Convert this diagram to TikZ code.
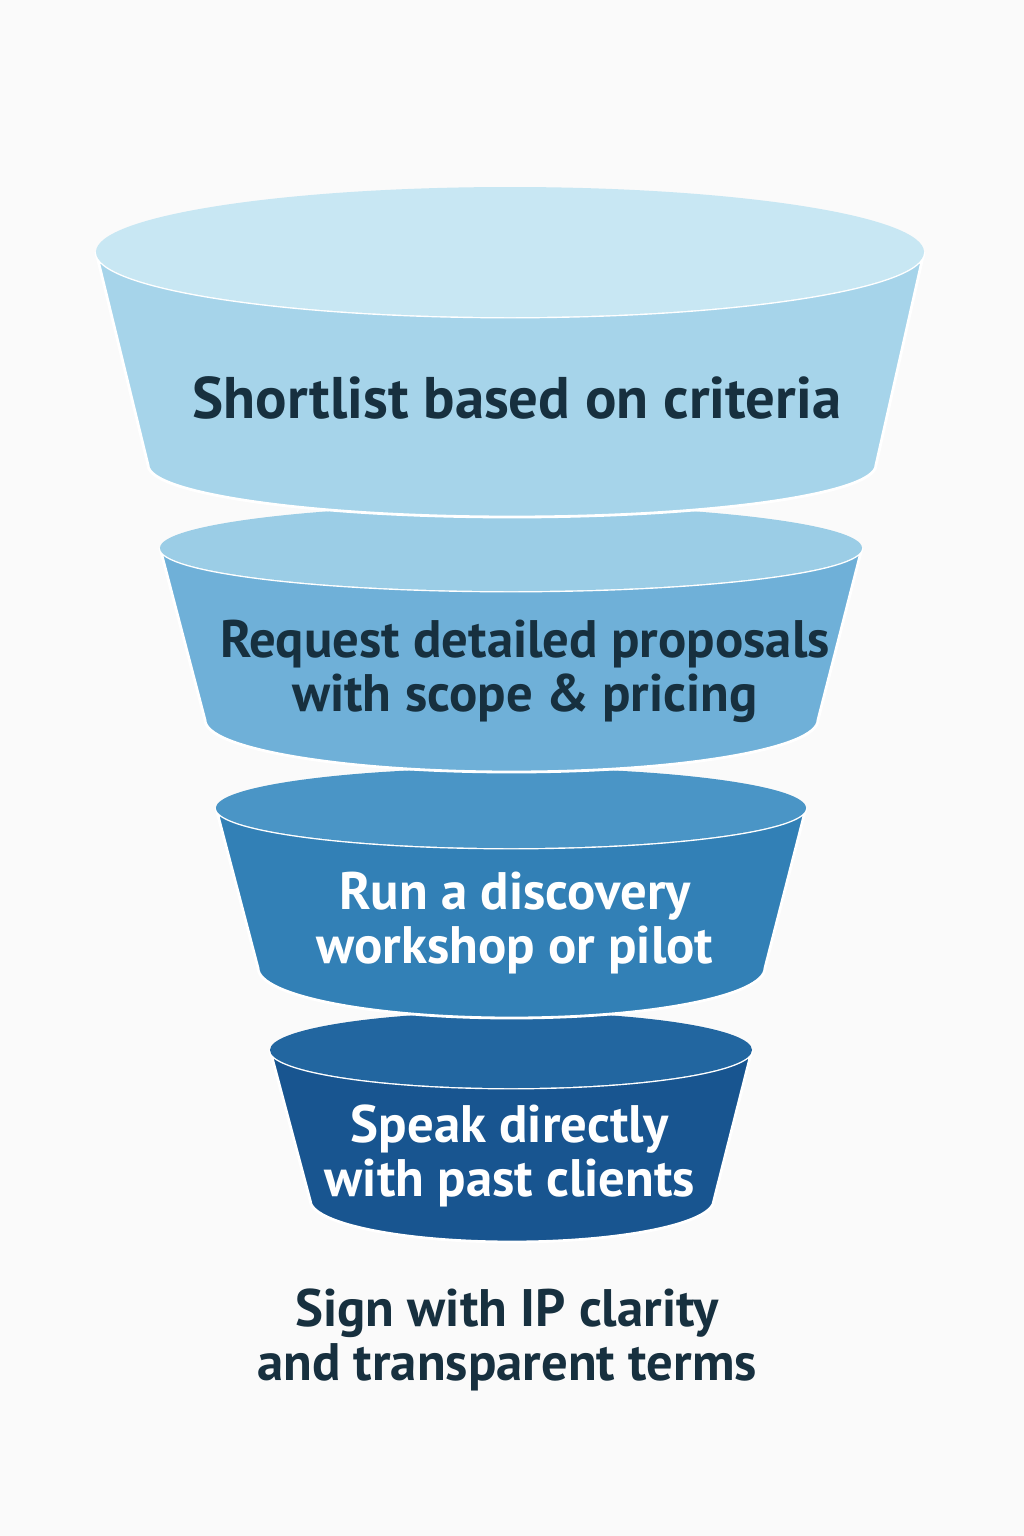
\documentclass[tikz,border=0pt]{standalone}
\usepackage{fontspec}
\setmainfont{PT Sans}
\definecolor{bgcol}{HTML}{FAFAFA}
\definecolor{txtdark}{HTML}{17303F}
\definecolor{topA}{HTML}{C8E7F3}
\definecolor{sideA}{HTML}{A6D4EA}
\definecolor{topB}{HTML}{9BCDE6}
\definecolor{sideB}{HTML}{6FB0D8}
\definecolor{topC}{HTML}{4A95C6}
\definecolor{sideC}{HTML}{3280B6}
\definecolor{topD}{HTML}{2266A0}
\definecolor{sideD}{HTML}{185590}
\tikzset{
  side/.style={fill=#1, draw=white, line width=0.8pt},
  lid/.style={fill=#1},
  label/.style={font=\bfseries\fontsize{15}{15.4}\selectfont, align=center, text=#1},
  biglabel/.style={font=\bfseries\fontsize{16.7}{15.4}\selectfont, align=center, text=#1},
}
\begin{document}
\begin{tikzpicture}[x=0.01cm,y=0.01cm]
\fill[bgcol] (0,0) rectangle (1024,-1536);
\useasboundingbox (0,0) rectangle (1024,-1536);
% level 4 (narrowest)
\coordinate (D1) at (270,-1050);
\coordinate (D2) at (310,-1200);
\coordinate (D3) at (752,-1050);
\draw[side=sideD] (D1) -- (D2) arc[start angle=180, end angle=360, x radius=202, y radius=42] -- (D3) arc[start angle=0, end angle=-180, x radius=241, y radius=38] -- cycle;
\fill[lid=topD] (511,-1050) ellipse [x radius=241, y radius=38];
\node[label=white] (speak) at (510,-1156) {Speak directly\\with past clients};
% level 3
\coordinate (C1) at (216,-808);
\coordinate (C2) at (258,-968);
\coordinate (C3) at (806,-808);
\draw[side=sideC] (C1) -- (C2) arc[start angle=180, end angle=360, x radius=253.5, y radius=50] -- (C3) arc[start angle=0, end angle=-180, x radius=295, y radius=40] -- cycle;
\fill[lid=topC] (511,-808) ellipse [x radius=295, y radius=40];
\node[label=white] (run) at (515,-923) {Run a discovery\\workshop or pilot};
% level 2
\coordinate (B1) at (160,-548);
\coordinate (B2) at (205,-720);
\coordinate (B3) at (862,-548);
\draw[side=sideB] (B1) -- (B2) arc[start angle=180, end angle=360, x radius=306.5, y radius=52] -- (B3) arc[start angle=0, end angle=-180, x radius=351, y radius=43] -- cycle;
\fill[lid=topB] (511,-548) ellipse [x radius=351, y radius=43];
\node[label=txtdark] (request) at (525,-671) {Request detailed proposals\\with scope \& pricing};
% level 1 (widest)
\coordinate (A1) at (96,-252);
\coordinate (A2) at (148,-465);
\coordinate (A3) at (924,-252);
\draw[side=sideA] (A1) -- (A2) arc[start angle=180, end angle=360, x radius=364, y radius=52] -- (A3) arc[start angle=0, end angle=-180, x radius=414, y radius=65] -- cycle;
\fill[lid=topA] (510,-252) ellipse [x radius=414, y radius=65];
\node[biglabel=txtdark] (shortlist) at (517,-398) {Shortlist based on criteria};
% outcome below the funnel
\node[label=txtdark] (sign) at (507,-1340) {Sign with IP clarity\\and transparent terms};
\end{tikzpicture}
\end{document}
